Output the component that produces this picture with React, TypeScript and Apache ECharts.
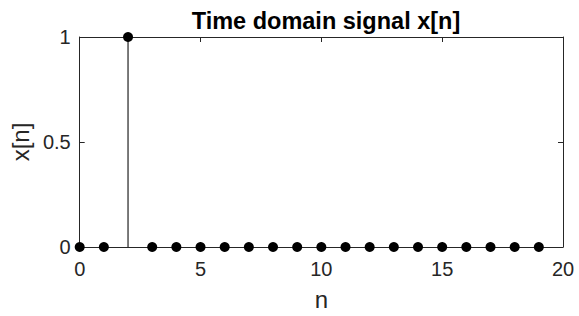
import React, { useEffect, useRef } from "react";
import * as echarts from "echarts";

const nValues = [0, 1, 2, 3, 4, 5, 6, 7, 8, 9, 10, 11, 12, 13, 14, 15, 16, 17, 18, 19];
const xValues = [0, 0, 1, 0, 0, 0, 0, 0, 0, 0, 0, 0, 0, 0, 0, 0, 0, 0, 0, 0];
const titleText = "Time domain signal x[n]";
const xLabel = "n";
const yLabel = "x[n]";

const FONT = "Liberation Sans, Arial, Helvetica, sans-serif";
const AX = "#262626";

export default function App() {
  const ref = useRef<HTMLDivElement>(null);
  useEffect(() => {
    if (!ref.current) return;
    const chart = echarts.init(ref.current, undefined, { renderer: "svg" });
    const data = nValues.map((n, i) => [n, xValues[i]]);
    const axisCommon = {
      type: "value" as const,
      axisLine: { show: true, onZero: false, lineStyle: { color: AX, width: 1 } },
      axisTick: { show: true, inside: true, length: 5, lineStyle: { color: AX, width: 1 } },
      splitLine: { show: false },
    };
    chart.setOption({
      animation: false,
      backgroundColor: "#ffffff",
      title: {
        text: titleText,
        left: 321,
        textAlign: "center",
        top: 4,
        textStyle: { fontFamily: FONT, fontSize: 23.5, fontWeight: "bold", color: "#000" },
      },
      grid: { left: 79, right: 16, top: 37, bottom: 66, containLabel: false },
      xAxis: [
        {
          ...axisCommon,
          position: "bottom",
          min: 0,
          max: 20,
          interval: 5,
          name: xLabel,
          nameLocation: "middle",
          nameGap: 40,
          nameTextStyle: { fontFamily: FONT, fontSize: 24, color: AX },
          axisLabel: { fontFamily: FONT, fontSize: 20, color: AX, margin: 12 },
        },
        {
          ...axisCommon,
          position: "top",
          min: 0,
          max: 20,
          interval: 5,
          axisLabel: { show: false },
        },
      ],
      yAxis: [
        {
          ...axisCommon,
          position: "left",
          min: 0,
          max: 1,
          interval: 0.5,
          name: yLabel,
          nameLocation: "middle",
          nameGap: 46,
          nameTextStyle: { fontFamily: FONT, fontSize: 24, color: AX },
          axisLabel: { fontFamily: FONT, fontSize: 20, color: AX, margin: 9 },
        },
        {
          ...axisCommon,
          position: "right",
          min: 0,
          max: 1,
          interval: 0.5,
          axisLabel: { show: false },
        },
      ],
      series: [
        {
          type: "custom",
          xAxisIndex: 0,
          yAxisIndex: 0,
          data,
          z: 2,
          clip: false,
          renderItem: (params: any, api: any) => {
            const p0 = api.coord([api.value(0), 0]);
            const p1 = api.coord([api.value(0), api.value(1)]);
            return {
              type: "line",
              shape: { x1: p0[0], y1: p0[1], x2: p1[0], y2: p1[1] },
              style: { stroke: "#333333", lineWidth: 1.3 },
            };
          },
        },
        {
          type: "scatter",
          xAxisIndex: 0,
          yAxisIndex: 0,
          data,
          symbol: "circle",
          symbolSize: 10,
          clip: false,
          z: 3,
          itemStyle: { color: "#000000", opacity: 1 },
        },
      ],
    });
    return () => chart.dispose();
  }, []);
  return (
    <div
      ref={ref}
      style={{ position: "fixed", left: 0, top: 0, width: 579, height: 316 }}
    />
  );
}
